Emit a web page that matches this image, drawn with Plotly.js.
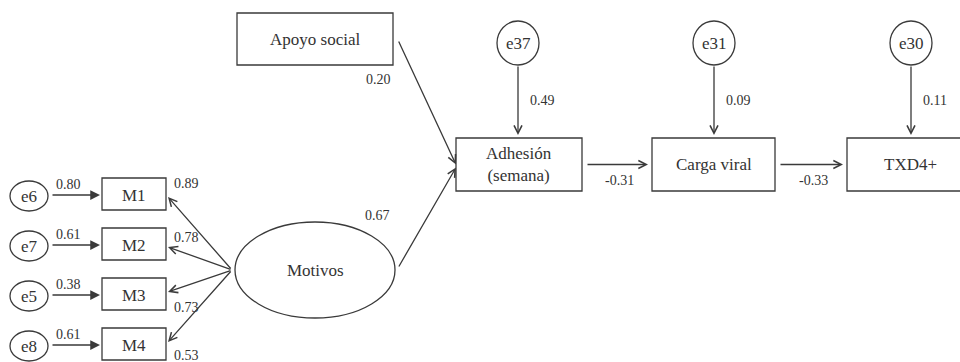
<!DOCTYPE html>
<html>
<head>
<meta charset="utf-8">
<script src="https://cdn.plot.ly/plotly-3.0.1.min.js"></script>
<style>
  html, body { margin: 0; padding: 0; background: #fff; }
  #chart { width: 960px; height: 362px; }
</style>
</head>
<body>
<div id="chart"></div>
<script>
// Path model: social support and motives -> adherence -> viral load -> CD4
const predictorNames = ['Apoyo social', 'Motivos'];
const predictorPaths = [0.20, 0.67];          // each predictor -> Adhesión

const indicators = ['M1', 'M2', 'M3', 'M4'];
const indicatorErrors = ['e6', 'e7', 'e5', 'e8'];
const errorWeights = [0.80, 0.61, 0.38, 0.61]; // error term -> indicator
const loadings = [0.89, 0.78, 0.73, 0.53];     // Motivos -> indicator

const outcomes = ['Adhesión<br>(semana)', 'Carga viral', 'TXD4+'];
const outcomeErrors = ['e37', 'e31', 'e30'];
const outcomeErrorWeights = [0.49, 0.09, 0.11];
const chainPaths = [-0.31, -0.33];             // outcome i -> outcome i+1

// ---- drawing geometry (pixel space, y grows downward) ----
const G = {
  ind: { x0: 102, x1: 166, cy: [194, 244, 294, 344], h: 16 },
  indErr: { cx: 29, rx: 19, ry: 15 },
  apoyo: { x0: 237, x1: 393, y0: 13, y1: 65 },
  motivos: { cx: 315, cy: 270, rx: 80, ry: 48 },
  out: { x0: [456, 652, 847], x1: [582, 775, 973], y0: 138, y1: 191 },
  outErr: { cx: [518, 714, 911], cy: 43, rx: 21, ry: 22 },
  loadLabelDy: [-11, -7, 13, 11]
};

const LINE = '#3a3a3a';
const TEXT = '#333333';
const FONT = 'Liberation Serif';
const NODE_SIZE = 17;
const NUM_SIZE = 14;
const fmt = v => v.toFixed(2);

const shapes = [];
const annotations = [];

function rect(x0, y0, x1, y1) {
  shapes.push({ type: 'rect', xref: 'x', yref: 'y', x0, y0, x1, y1,
    line: { color: LINE, width: 1.3 }, fillcolor: 'rgba(0,0,0,0)' });
}
function ellipse(cx, cy, rx, ry) {
  shapes.push({ type: 'circle', xref: 'x', yref: 'y',
    x0: cx - rx, x1: cx + rx, y0: cy - ry, y1: cy + ry,
    line: { color: LINE, width: 1.3 }, fillcolor: 'rgba(0,0,0,0)' });
}
function label(x, y, text, size, anchor) {
  annotations.push({ x, y, xref: 'x', yref: 'y', text, showarrow: false,
    xanchor: anchor || 'center', yanchor: 'middle',
    font: { family: FONT, size: size || NUM_SIZE, color: TEXT } });
}
function arrow(tx, ty, hx, hy, filled) {
  annotations.push({ x: hx, y: hy, ax: tx, ay: ty, xref: 'x', yref: 'y',
    axref: 'x', ayref: 'y', text: '', showarrow: true,
    arrowhead: filled ? 2 : 5, arrowsize: filled ? 1.5 : 1.2,
    arrowwidth: 1.3, arrowcolor: LINE, standoff: 0, startstandoff: 0 });
}

// Measurement part: Motivos and its indicators
indicators.forEach((name, i) => {
  const cy = G.ind.cy[i];
  rect(G.ind.x0, cy - G.ind.h, G.ind.x1, cy + G.ind.h);
  label((G.ind.x0 + G.ind.x1) / 2, cy + 1, name, NODE_SIZE);
  ellipse(G.indErr.cx, cy + 2, G.indErr.rx, G.indErr.ry);
  label(G.indErr.cx, cy + 2, indicatorErrors[i], NODE_SIZE);
  arrow(G.indErr.cx + G.indErr.rx + 3, cy + 1, G.ind.x0 - 2, cy + 1, true);
  label(68, cy - 10, fmt(errorWeights[i]), NUM_SIZE);
  arrow(G.motivos.cx - G.motivos.rx - 3, G.motivos.cy, G.ind.x1 + 2, cy + (i < 2 ? 3 : -2), false);
  label(G.ind.x1 + 6, cy + G.loadLabelDy[i], fmt(loadings[i]), NUM_SIZE, 'left');
});

ellipse(G.motivos.cx, G.motivos.cy, G.motivos.rx, G.motivos.ry);
label(G.motivos.cx, G.motivos.cy, predictorNames[1], NODE_SIZE);

// Apoyo social
rect(G.apoyo.x0, G.apoyo.y0, G.apoyo.x1, G.apoyo.y1);
label((G.apoyo.x0 + G.apoyo.x1) / 2, (G.apoyo.y0 + G.apoyo.y1) / 2, predictorNames[0], NODE_SIZE);

// Structural chain
const midY = (G.out.y0 + G.out.y1) / 2;
outcomes.forEach((name, i) => {
  rect(G.out.x0[i], G.out.y0, G.out.x1[i], G.out.y1);
  label((G.out.x0[i] + G.out.x1[i]) / 2, midY, name, NODE_SIZE);
  const ex = G.outErr.cx[i];
  ellipse(ex, G.outErr.cy, G.outErr.rx, G.outErr.ry);
  label(ex, G.outErr.cy, outcomeErrors[i], NODE_SIZE);
  arrow(ex, G.outErr.cy + G.outErr.ry, ex, G.out.y0 - 3, false);
  label(ex + 10, 100, fmt(outcomeErrorWeights[i]), NUM_SIZE, 'left');
  if (i < outcomes.length - 1) {
    arrow(G.out.x1[i] + 4, midY, G.out.x0[i + 1] - 4, midY, false);
    label((G.out.x1[i] + G.out.x0[i + 1]) / 2 + 2, midY + 16, fmt(chainPaths[i]), NUM_SIZE);
  }
});

// Predictors -> Adhesión
arrow(G.apoyo.x1 + 5, 40, G.out.x0[0], midY, false);
label(G.apoyo.x1 - 15, G.apoyo.y1 + 14, fmt(predictorPaths[0]), NUM_SIZE);
arrow(G.motivos.cx + G.motivos.rx + 3, G.motivos.cy - 2, G.out.x0[0], midY + 3, false);
label(377, 215, fmt(predictorPaths[1]), NUM_SIZE);

const layout = {
  width: 960, height: 362,
  margin: { l: 0, r: 0, t: 0, b: 0 },
  paper_bgcolor: '#ffffff', plot_bgcolor: '#ffffff',
  showlegend: false,
  font: { family: FONT },
  xaxis: { range: [0, 960], visible: false, fixedrange: true },
  yaxis: { range: [362, 0], visible: false, fixedrange: true },
  shapes, annotations
};

Plotly.newPlot('chart', [{ x: [], y: [], type: 'scatter', mode: 'markers' }], layout,
  { staticPlot: true, displayModeBar: false });
</script>
</body>
</html>
